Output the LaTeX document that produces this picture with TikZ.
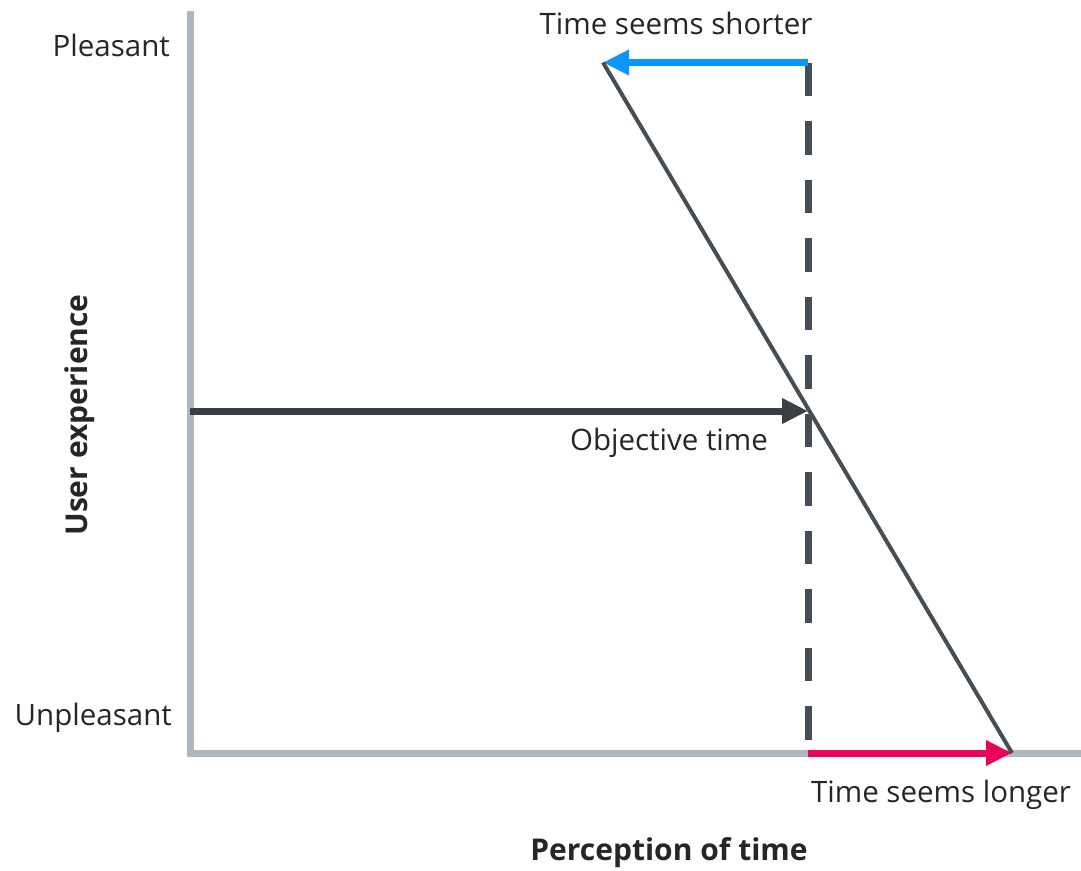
\documentclass[tikz,border=0pt]{standalone}
\usepackage{fontspec}
\setmainfont{Open Sans}
\usetikzlibrary{arrows.meta}
\definecolor{axisgray}{HTML}{B0B6BE}
\definecolor{linedark}{HTML}{474D55}
\definecolor{arrowdark}{HTML}{3A3F46}
\definecolor{shortblue}{HTML}{0A96FA}
\definecolor{longred}{HTML}{E8055A}
\definecolor{txt}{HTML}{262626}
\tikzset{
  lbl/.style={inner sep=0pt, text=txt, font=\fontsize{29.5}{34}\selectfont},
  bold/.style={lbl, font=\fontsize{30}{34}\selectfont\bfseries},
  axis/.style={draw=axisgray, line width=7pt},
  marker/.style={line width=7pt, -{Triangle[length=26pt,width=24pt]}},
}
\begin{document}
\begin{tikzpicture}[x=1pt,y=-1pt]
\useasboundingbox (0,0) rectangle (1081,870);
% key points
\coordinate (top) at (190,14);
\coordinate (origin) at (190,753);
\coordinate (right) at (1081,753);
\coordinate (objtop) at (808,62.5);
\coordinate (objmid) at (808,411);
\coordinate (objbot) at (808,753);
\coordinate (pleasant) at (603,62.5);
\coordinate (unpleasant) at (1012,753);
\coordinate (axismid) at (190,411);
% axes
\draw[axis, line cap=rect] (top) -- (origin) -- (right);
% objective time marker (dashed)
\draw[draw=linedark, line width=7pt, dash pattern=on 33.5pt off 25pt] (objtop) -- (objbot);
% arrows
\draw[marker, draw=shortblue, fill=shortblue] (objtop) -- (pleasant);
\draw[marker, draw=arrowdark, fill=arrowdark] (axismid) -- (objmid);
\draw[marker, draw=longred, fill=longred] (objbot) -- (unpleasant);
% perception line
\draw[draw=linedark, line width=4pt] (pleasant) -- (unpleasant);
% labels
\node[lbl, anchor=east] (lp) at (170,45) {Pleasant};
\node[lbl, anchor=east] (lu) at (172,718) {Unpleasant};
\node[lbl] (ls) at (676,23) {Time seems shorter};
\node[lbl] (lo) at (669,443) {Objective time};
\node[lbl] (ll) at (941,795) {Time seems longer};
\node[bold] (lx) at (669,853) {Perception of time};
\node[bold, rotate=90] (ly) at (80,415) {User experience};
\end{tikzpicture}
\end{document}
